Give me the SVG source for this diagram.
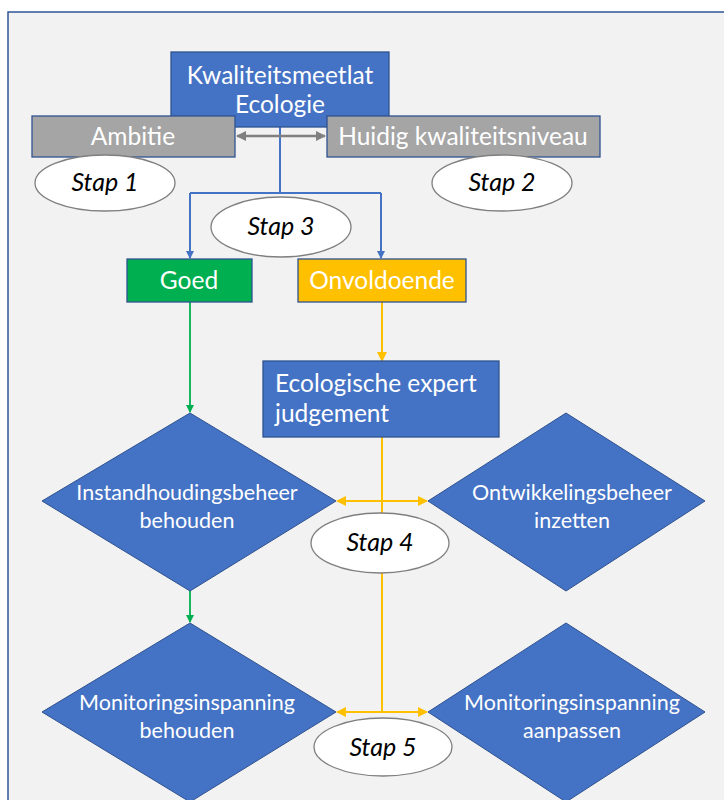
<svg xmlns="http://www.w3.org/2000/svg" width="724" height="800" viewBox="0 0 724 800">
<defs>
<style>
.lbl{font-family:Lato,"Liberation Sans",sans-serif;fill:#ffffff;text-anchor:middle}
.big{font-size:24.5px}
.dia{font-size:21.5px}
.stap{font-family:Lato,"Liberation Sans",sans-serif;font-style:italic;fill:#000000;text-anchor:middle;font-size:25px}
.box{stroke:#2f528f;stroke-width:1.3}
.blue{fill:#4472c4}
.ell{fill:#ffffff;stroke:#7f7f7f;stroke-width:1.3}
.cb{stroke:#4472c4;stroke-width:2;fill:none}
.cg{stroke:#00b050;stroke-width:1.8;fill:none}
.cy{stroke:#ffc000;stroke-width:2;fill:none}
.cgr{stroke:#808080;stroke-width:2.5;fill:none}
</style>
<marker id="ab" markerWidth="8" markerHeight="8" refX="7" refY="4" orient="auto" markerUnits="userSpaceOnUse"><path d="M0,0 L8,4 L0,8 Z" fill="#4472c4"/></marker>
<marker id="ag" markerWidth="8" markerHeight="8" refX="7" refY="4" orient="auto" markerUnits="userSpaceOnUse"><path d="M0,0 L8,4 L0,8 Z" fill="#00b050"/></marker>
<marker id="ay" markerWidth="10" markerHeight="10" refX="9" refY="5" orient="auto-start-reverse" markerUnits="userSpaceOnUse"><path d="M0,0 L10,5 L0,10 Z" fill="#ffc000"/></marker>
<marker id="agr" markerWidth="10" markerHeight="10" refX="9" refY="5" orient="auto-start-reverse" markerUnits="userSpaceOnUse"><path d="M0,0 L10,5 L0,10 Z" fill="#808080"/></marker>
</defs>
<rect x="0" y="0" width="724" height="800" fill="#ffffff"/>
<rect id="frame" x="8" y="12" width="730" height="800" fill="#f2f2f2" stroke="#2f5597" stroke-width="1.5"/>

<g id="connectors">
<path class="cb" d="M280,127 V193"/>
<path class="cb" d="M190,193 H381"/>
<path class="cb" d="M190,193 V258" marker-end="url(#ab)"/>
<path class="cb" d="M381,193 V258" marker-end="url(#ab)"/>
<path class="cgr" d="M237,136 H325" marker-start="url(#agr)" marker-end="url(#agr)"/>
<path class="cg" d="M190,302 V412" marker-end="url(#ag)"/>
<path class="cy" d="M382,302 V361" marker-end="url(#ay)"/>
<path class="cy" d="M382,437 V712"/>
<path class="cy" d="M337,501 H427" marker-start="url(#ay)" marker-end="url(#ay)"/>
<path class="cg" d="M190,591 V622" marker-end="url(#ag)"/>
<path class="cy" d="M337,712 H427" marker-start="url(#ay)" marker-end="url(#ay)"/>
</g>

<g id="kwaliteitsmeetlat">
<rect class="box blue" x="171" y="52" width="218" height="75"/>
<text class="lbl big" x="280" y="84">Kwaliteitsmeetlat</text>
<text class="lbl big" x="280" y="113">Ecologie</text>
</g>
<g id="ambitie">
<rect class="box" fill="#a5a5a5" x="32" y="116" width="203" height="41"/>
<text class="lbl big" x="133" y="145">Ambitie</text>
</g>
<g id="huidig">
<rect class="box" fill="#a5a5a5" x="327" y="116" width="273" height="41"/>
<text class="lbl big" x="463" y="145">Huidig kwaliteitsniveau</text>
</g>
<g id="stap1">
<ellipse class="ell" cx="105" cy="183" rx="70" ry="28"/>
<text class="stap" x="105" y="191">Stap 1</text>
</g>
<g id="stap2">
<ellipse class="ell" cx="502" cy="183" rx="70" ry="28"/>
<text class="stap" x="502" y="191">Stap 2</text>
</g>
<g id="stap3">
<ellipse class="ell" cx="281" cy="227" rx="70" ry="30"/>
<text class="stap" x="281" y="235">Stap 3</text>
</g>
<g id="goed">
<rect class="box" fill="#00b050" x="127" y="259" width="125" height="43"/>
<text class="lbl big" x="189" y="289">Goed</text>
</g>
<g id="onvoldoende">
<rect class="box" fill="#ffc000" x="298" y="259" width="168" height="43"/>
<text class="lbl big" x="382" y="289">Onvoldoende</text>
</g>
<g id="expert">
<rect class="box blue" x="263" y="361" width="236" height="76"/>
<text class="lbl big" x="275" y="392" style="text-anchor:start">Ecologische expert</text>
<text class="lbl big" x="275" y="422" style="text-anchor:start">judgement</text>
</g>
<g id="instandhouding">
<polygon class="blue" stroke="#2f528f" stroke-width="1" points="190,413 336,501 190,591 42,501"/>
<text class="lbl dia" x="187" y="500">Instandhoudingsbeheer</text>
<text class="lbl dia" x="187" y="528">behouden</text>
</g>
<g id="ontwikkeling">
<polygon class="blue" stroke="#2f528f" stroke-width="1" points="566,413 705,501 566,591 428,501"/>
<text class="lbl dia" x="572" y="500">Ontwikkelingsbeheer</text>
<text class="lbl dia" x="572" y="528">inzetten</text>
</g>
<g id="stap4">
<ellipse class="ell" cx="380" cy="543" rx="69" ry="30"/>
<text class="stap" x="380" y="551">Stap 4</text>
</g>
<g id="monitoring-behouden">
<polygon class="blue" stroke="#2f528f" stroke-width="1" points="190,623 336,712 190,802 42,712"/>
<text class="lbl dia" x="187" y="710">Monitoringsinspanning</text>
<text class="lbl dia" x="187" y="738">behouden</text>
</g>
<g id="monitoring-aanpassen">
<polygon class="blue" stroke="#2f528f" stroke-width="1" points="566,623 705,712 566,802 428,712"/>
<text class="lbl dia" x="572" y="710">Monitoringsinspanning</text>
<text class="lbl dia" x="572" y="738">aanpassen</text>
</g>
<g id="stap5">
<ellipse class="ell" cx="383" cy="747" rx="69" ry="29"/>
<text class="stap" x="383" y="756">Stap 5</text>
</g>
</svg>
